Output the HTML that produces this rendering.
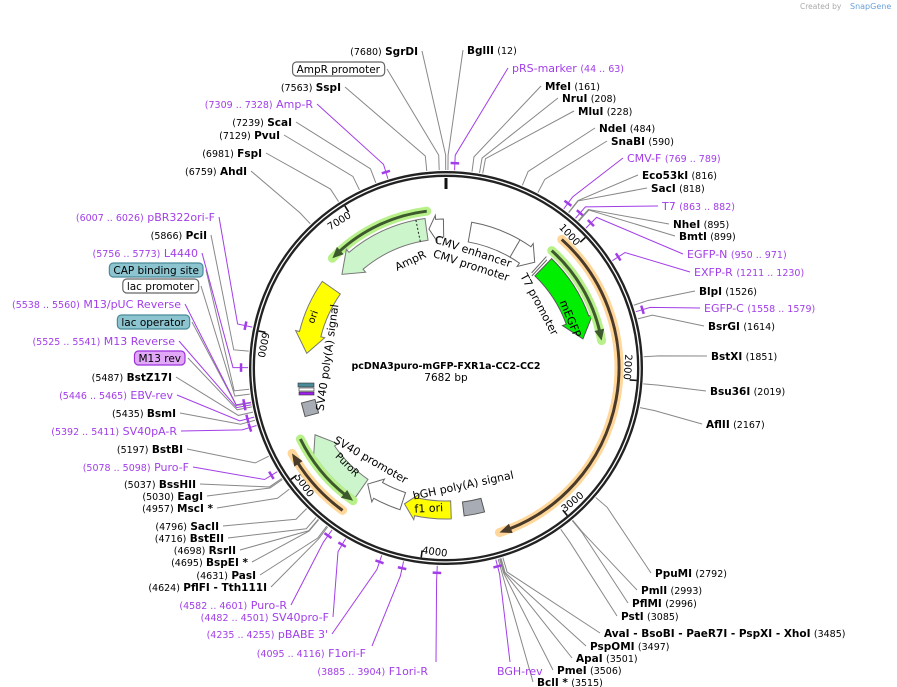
<!DOCTYPE html>
<html><head><meta charset="utf-8"><style>
html,body{margin:0;padding:0;background:#fff;width:897px;height:687px;overflow:hidden}
svg{position:absolute;left:0;top:0}
text{font-family:"DejaVu Sans","Liberation Sans",sans-serif}
</style></head><body>
<svg id="s" width="897" height="687" viewBox="0 0 897 687" xmlns="http://www.w3.org/2000/svg">
<text x="800" y="9" font-size="7.5" fill="#aaa">Created by</text><text x="850" y="9" font-size="8" fill="#6aa0d8">SnapGene</text>
<g id="g"></g>
</svg>
<script>
const NS="http://www.w3.org/2000/svg",G=document.getElementById('g');
const cx=446,cy=368;
function P(r,a){const t=a*Math.PI/180;return [cx+r*Math.sin(t),cy-r*Math.cos(t)];}
function A(p){return p/7682*360;}
function el(t,at,txt){const e=document.createElementNS(NS,t);for(const k in at)e.setAttribute(k,at[k]);if(txt!==undefined)e.textContent=txt;G.appendChild(e);return e;}
function arcD(r,a1,a2){const p1=P(r,a1),p2=P(r,a2);const sw=a2>a1?1:0;const lg=Math.abs(a2-a1)>180?1:0;return `M${p1[0]},${p1[1]} A${r},${r} 0 ${lg} ${sw} ${p2[0]},${p2[1]}`;}
function arrow(r,w,a1,a2,head,fill,stroke){
 const d=a2>a1?1:-1;const ah=a2-d*head;const ro=r+w/2,ri=r-w/2;
 const p1=P(ro,a1),p2=P(ro,ah),p3=P(ro+4,ah),tip=P(r,a2),p4=P(ri-4,ah),p5=P(ri,ah),p6=P(ri,a1);
 const sw=d>0?1:0,sw2=d>0?0:1;
 let s=`M${p1} A${ro},${ro} 0 0 ${sw} ${p2} L${p3} L${tip} L${p4} L${p5} A${ri},${ri} 0 0 ${sw2} ${p6} Z`;
 if(head==0){s=`M${p1} A${ro},${ro} 0 0 ${sw} ${P(ro,a2)} L${P(ri,a2)} A${ri},${ri} 0 0 ${sw2} ${p6} Z`;}
 el('path',{d:s,fill:fill,stroke:stroke,'stroke-width':1});
}
function hline(r,a1,a2,halo,dark){
 const d=a2>a1?1:-1;
 el('path',{d:arcD(r,a1,a2),fill:'none',stroke:halo,'stroke-width':9,'stroke-linecap':'round'});
 el('path',{d:arcD(r,a1,a2-d*3),fill:'none',stroke:dark,'stroke-width':3});
 const t=P(r,a2),b1=P(r+5,a2-d*4),b2=P(r-5,a2-d*4);
 el('path',{d:`M${t} L${b1} L${b2} Z`,fill:dark});
}
// ring
el('circle',{cx,cy,r:194,fill:'none',stroke:'#222','stroke-width':6});
el('circle',{cx,cy,r:194,fill:'none',stroke:'#fff','stroke-width':1.3});
el('line',{x1:cx,y1:178,x2:cx,y2:189,stroke:'#111','stroke-width':3});
for(let k=1;k<=7;k++){const a=A(k*1000);const p=P(191,a),q=P(184,a);el('line',{x1:p[0],y1:p[1],x2:q[0],y2:q[1],stroke:'#111','stroke-width':1.6});
 let rot,anc,rr;
 if(a<100||a>300){rot=a>300?a-360:a;anc='end';rr=178;}else{rot=a-180;anc='start';rr=187;}
 const tp=P(rr,a);
 el('text',{x:tp[0],y:tp[1],'font-size':10,'text-anchor':anc,transform:`rotate(${rot} ${tp[0]} ${tp[1]})`},(k*1000)+'');}
// features
hline(158,-7,-46,'#b8f08a','#3d5a2d');
arrow(140,22,-8,-48,8,'#ccf5cc','#777');
{const a=P(129,-11.5),b=P(151,-11.5);el('line',{x1:a[0],y1:a[1],x2:b[0],y2:b[1],stroke:'#222','stroke-dasharray':'2,2'});}
arrow(140,18,-1,-7,3,'#fff','#666');
arrow(138,20,10,40,5,'#fff','#666');
{const a=P(128,30),b=P(148,30);el('line',{x1:a[0],y1:a[1],x2:b[0],y2:b[1],stroke:'#666'});}
{const a=P(128,42),b=P(150,42);el('line',{x1:a[0],y1:a[1],x2:b[0],y2:b[1],stroke:'#666'});const c=P(126,43),d=P(148,43);el('line',{x1:c[0],y1:c[1],x2:d[0],y2:d[1],stroke:'#666'});}
arrow(140,24,44,78,8,'#00ee00','#555');
hline(158,42,80,'#b8f08a','#3d5a2d');
hline(173,42,162,'#ffd79a','#4a3a2a');
arrow(140,22,-55,-84,8,'#ffff00','#777');
arrow(147,22,215,243,8,'#ccf5cc','#777');
arrow(140,18,198,214,5,'#fff','#666');
arrow(142,18,178,197,5,'#ffff00','#777');
arrow(142,14,165,173,0,'#a8adb5','#555');
hline(162,244,215,'#b8f08a','#3d5a2d');
hline(176,216,241,'#ffd79a','#4a3a2a');
el('rect',{x:303,y:401,width:14,height:14,fill:'#a8adb5',stroke:'#555',transform:'rotate(-15 310 408)'});
el('rect',{x:298,y:383,width:16,height:4,fill:'#4a8a99',stroke:'#333','stroke-width':.6});
el('rect',{x:299,y:388,width:15,height:3,fill:'#fff',stroke:'#333','stroke-width':.6});
el('rect',{x:299,y:392,width:15,height:3,fill:'#a020f0',stroke:'#333','stroke-width':.6});
function rt(x,y,r,s,fs){el('text',{x,y,'font-size':fs||11,'text-anchor':'middle',transform:`rotate(${r} ${x} ${y})`},s);}
rt(412,264,-25,'AmpR');
rt(472,255,18,'CMV enhancer');rt(470,269,18,'CMV promoter');
rt(536,306,62,'T7 promoter');rt(567,320,68,'mEGFP');
rt(316,318,-70,'ori',10);
rt(331,358,-82,'SV40 poly(A) signal');
rt(369,463,30,'SV40 promoter');rt(345,467,45,'PuroR',10);
rt(464,489,-12,'bGH poly(A) signal');rt(429,512,-3,'f1 ori');
el('text',{x:446,y:369,'font-size':9.5,'font-weight':'bold','text-anchor':'middle'},'pcDNA3puro-mGFP-FXR1a-CC2-CC2');
el('text',{x:446,y:381,'font-size':10.5,'text-anchor':'middle'},'7682 bp');
const PU='#a23ee8';
const L=[
['BglII','(12)',467,50,'R',12],
['pRS-marker','(44 .. 63)',512,68,'R',53,PU],
['MfeI','(161)',545,86,'R',161],['NruI','(208)',562,98,'R',208],['MluI','(228)',578,111,'R',228],
['NdeI','(484)',599,128,'R',484],['SnaBI','(590)',611,141,'R',590],
['CMV-F','(769 .. 789)',627,158,'R',779,PU],
['Eco53kI','(816)',642,175,'R',816],['SacI','(818)',651,188,'R',818],
['T7','(863 .. 882)',662,206,'R',872,PU],
['NheI','(895)',673,224,'R',895],['BmtI','(899)',679,236,'R',899],
['EGFP-N','(950 .. 971)',687,254,'R',960,PU],['EXFP-R','(1211 .. 1230)',694,272,'R',1220,PU],
['BlpI','(1526)',699,291,'R',1526],['EGFP-C','(1558 .. 1579)',704,308,'R',1568,PU],
['BsrGI','(1614)',708,326,'R',1614],['BstXI','(1851)',711,356,'R',1851],
['Bsu36I','(2019)',710,391,'R',2019],['AflII','(2167)',706,424,'R',2167],
['PpuMI','(2792)',655,573,'R',2792],['PmlI','(2993)',641,590,'R',2993],['PflMI','(2996)',632,603,'R',2996],
['PstI','(3085)',621,616,'R',3085],
['AvaI  -  BsoBI  -  PaeR7I  -  PspXI  -  XhoI','(3485)',604,633,'R',3485],
['PspOMI','(3497)',590,646,'R',3497],['ApaI','(3501)',576,658,'R',3501],['PmeI','(3506)',557,670,'R',3506],
['BclI *','(3515)',537,682,'R',3515],
['BGH-rev','',497,671,'R',3530,PU,null,[510,662]],
['F1ori-R','(3885 .. 3904)',428,671,'L',3895,PU,null,[436,662]],
['F1ori-F','(4095 .. 4116)',366,653,'L',4105,PU,null,[372,646]],
["pBABE 3'",'(4235 .. 4255)',328,634,'L',4245,PU],
['SV40pro-F','(4482 .. 4501)',329,617,'L',4491,PU],
['Puro-R','(4582 .. 4601)',287,605,'L',4591,PU],
['PflFI  -  Tth111I','(4624)',267,587,'L',4624],['PasI','(4631)',256,575,'L',4631],
['BspEI *','(4695)',248,562,'L',4695],['RsrII','(4698)',236,550,'L',4698],
['BstEII','(4716)',224,538,'L',4716],['SacII','(4796)',219,526,'L',4796],
['MscI *','(4957)',213,508,'L',4957],['EagI','(5030)',203,496,'L',5030],['BssHII','(5037)',196,484,'L',5037],
['Puro-F','(5078 .. 5098)',189,467,'L',5088,PU],['BstBI','(5197)',183,449,'L',5197],
['SV40pA-R','(5392 .. 5411)',177,431,'L',5401,PU],['BsmI','(5435)',176,413,'L',5435],
['EBV-rev','(5446 .. 5465)',173,395,'L',5455,PU],['BstZ17I','(5487)',172,377,'L',5487],
['M13 rev','',181,358,'L',5520,'#000',['#e2a8f8','#9b30d9']],
['M13 Reverse','(5525 .. 5541)',175,341,'L',5533,PU],
['lac operator','',185,322,'L',5545,'#000',['#8cc4d0','#4a8a99']],
['M13/pUC Reverse','(5538 .. 5560)',181,304,'L',5549,PU],
['lac promoter','',194,286,'L',5600,'#000',['#fff','#666']],
['CAP binding site','',199,270,'L',5630,'#000',['#8cc4d0','#4a8a99']],
['L4440','(5756 .. 5773)',198,253,'L',5764,PU],
['PciI','(5866)',207,235,'L',5866],
['pBR322ori-F','(6007 .. 6026)',215,217,'L',6016,PU],
['AhdI','(6759)',247,171,'L',6759],['FspI','(6981)',262,153,'L',6981],['PvuI','(7129)',280,135,'L',7129],
['ScaI','(7239)',292,122,'L',7239],['Amp-R','(7309 .. 7328)',313,104,'L',7318,PU],
['SspI','(7563)',341,87,'L',7563],
['AmpR promoter','',380,69,'L',7640,'#000',['#fff','#666']],
['SgrDI','(7680)',418,51,'L',7680]
];
for(const l of L){
 const [nm,num,x,y,side,pos,col,box,ep]=l;const c=col||'#000';const isP=c===PU;
 const t=el('text',{x,y:y+4,'font-size':isP?11:10.5,'text-anchor':side=='R'?'start':'end',fill:c});
 const n1=document.createElementNS(NS,'tspan');n1.textContent=nm;if(!isP&&!box)n1.setAttribute('font-weight','bold');
 const n2=document.createElementNS(NS,'tspan');n2.textContent=num;n2.setAttribute('font-size','9.5');n2.setAttribute('font-weight','normal');
 if(side=='R'){t.appendChild(n1);if(num){t.appendChild(document.createTextNode('  '));t.appendChild(n2);}}
 else{if(num){t.appendChild(n2);t.appendChild(document.createTextNode('  '));}t.appendChild(n1);}
 t.setAttribute('xml:space','preserve');
 if(box){const bb=t.getBBox();const r=el('rect',{x:bb.x-4,y:y-7,width:bb.width+8,height:14,rx:4,fill:box[0],stroke:box[1],'stroke-width':1.2});G.insertBefore(r,t);}
 const a=A(pos);const p0=P(198,a),p1=P(213,a);
 let e=ep;if(!e)e=side=='R'?[x-4,y]:[x+(box?7:4),y];
 const lc=isP?PU:'#888';
 el('polyline',{points:`${p0} ${p1} ${e}`,fill:'none',stroke:lc,'stroke-width':1});
 if(isP){const q1=P(205,a-1.2),q2=P(205,a+1.2);el('line',{x1:q1[0],y1:q1[1],x2:q2[0],y2:q2[1],stroke:PU,'stroke-width':2.5});}
}
</script>
</body></html>
